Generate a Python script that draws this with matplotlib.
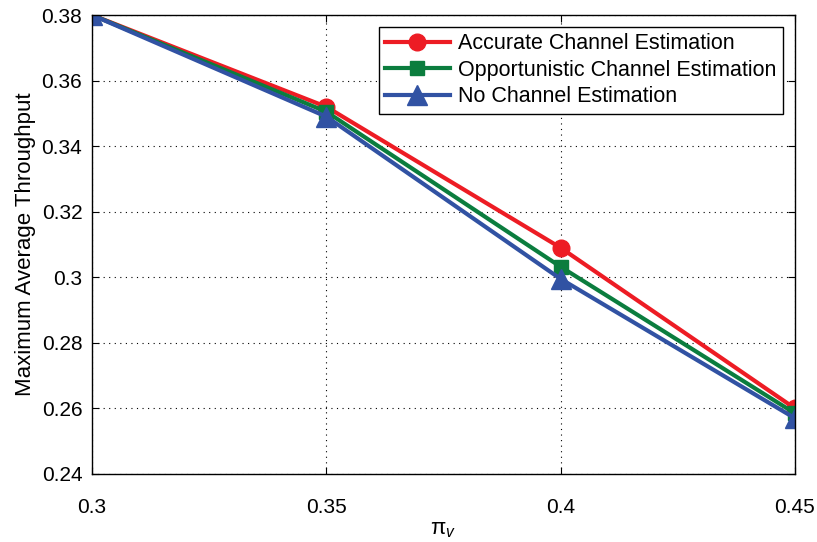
import numpy as np
import matplotlib.pyplot as plt

plt.rcParams['font.family'] = ['Liberation Sans', 'DejaVu Sans']
plt.rcParams['mathtext.fontset'] = 'custom'
plt.rcParams['mathtext.rm'] = 'Liberation Sans'
plt.rcParams['mathtext.it'] = 'Liberation Sans:italic'

pi_v = [0.3, 0.35, 0.4, 0.45]
accurate = [0.380, 0.352, 0.309, 0.260]
opportunistic = [0.380, 0.3505, 0.3032, 0.2585]
no_est = [0.380, 0.349, 0.2995, 0.257]

fig = plt.figure(figsize=(8.17, 5.42), dpi=100)
ax = fig.add_axes([0.1126, 0.1255, 0.8604, 0.8468])

ax.plot(pi_v, accurate, color='#ED1C24', lw=3, marker='o', ms=12,
        label='Accurate Channel Estimation')
ax.plot(pi_v, opportunistic, color='#0B7D3E', lw=3, marker='s', ms=10,
        label='Opportunistic Channel Estimation')
ax.plot(pi_v, no_est, color='#3152A3', lw=3, marker='^', ms=14,
        label='No Channel Estimation')

ax.set_xlim(0.3, 0.45)
ax.set_ylim(0.24, 0.38)
ax.set_xticks([0.3, 0.35, 0.4, 0.45])
ax.set_xticklabels(['0.3', '0.35', '0.4', '0.45'])
ax.set_yticks(np.arange(0.24, 0.381, 0.02))
ax.set_yticklabels(['0.24', '0.26', '0.28', '0.3', '0.32', '0.34', '0.36', '0.38'])
ax.tick_params(direction='in', top=True, right=True, labelsize=15, length=5)
ax.tick_params(axis='x', pad=17)
ax.tick_params(axis='y', pad=7)
for s in ax.spines.values():
    s.set_linewidth(1.0)
ax.grid(True, ls=(0, (1, 4)), color='black', lw=0.8)

ax.set_xlabel(r'$\mathrm{\pi}_v$', fontsize=16, labelpad=2)
ax.set_ylabel('Maximum Average Throughput', fontsize=16, labelpad=4)

leg = ax.legend(loc='upper right', fontsize=15.5, fancybox=False, edgecolor='black',
                framealpha=1, handlelength=3.0, handletextpad=0.4,
                borderaxespad=0.55, labelspacing=0.25, borderpad=0.3)
leg.get_frame().set_linewidth(1.0)

fig.savefig('out.png', dpi=100)
